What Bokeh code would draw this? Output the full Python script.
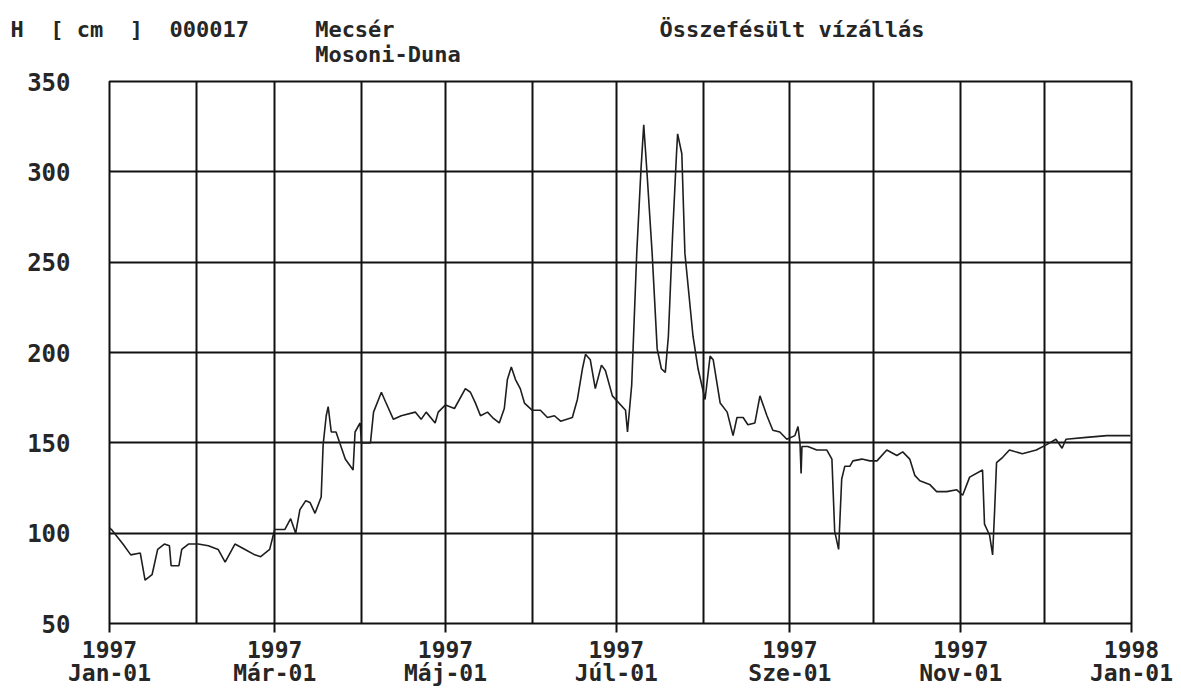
from bokeh.plotting import figure
from bokeh.models import Range1d, FixedTicker, Title
from bokeh.embed import file_html
from bokeh.resources import INLINE

# ---- data (day of year 1997, water level in cm) ----
days = [0, 0.7, 4.8, 7.6, 11, 12.7, 15.2, 17.2, 19.6, 21.4, 22, 24.8, 25.8, 28.2,
        31.7, 35.3, 38.8, 41.3, 44.8, 48.4, 51.9, 54, 57.2,
        59, 62.6, 64.7, 66.5, 68, 70.1, 71.6, 73.4, 75.6, 76.3, 77.4, 78.1, 79.2, 80.9, 84.2, 87, 87.7, 89.5,
        90, 93.2, 94.3, 97.1, 98.5, 101.4, 104.2, 109.2, 111.3, 113.1, 116.3, 117.4,
        120, 123.2, 127.1, 128.9, 130.7, 132.5, 135, 136.8, 139.2, 141, 142.1, 143.5, 145, 146.7, 148.2,
        151, 153.9, 156.4, 158.9, 161.1, 165.3, 167.1, 168.9, 170, 171.7, 173.5, 175.7, 177.1, 179.6,
        184.3, 185, 186.5, 188.3, 189.8, 190.8, 191.9, 193.8, 195.6, 197.1, 198.5, 199.6, 201.1, 202.5, 202.9, 204.4, 205.5, 208.4, 210.2,
        212.7, 214.5, 215.6, 218.1, 220.6, 222.7, 224.1, 226.3, 228, 230.5, 232.3, 234.8, 236.9, 239.4, 241.9,
        244.8, 245.9, 246.6, 247, 247.3, 249.4, 252.6, 256.2, 258, 259, 260.4, 261.5, 262.6, 264.4, 265.5, 268.7, 271.6,
        274.1, 277.6, 281.2, 283.3, 285.8, 287.6, 289.4, 292.9, 295.4, 299, 302.6,
        304.7, 307.2, 311.8, 312.5, 314.3, 315.4, 316.1, 316.8, 319, 321.4, 326, 331,
        334.7, 338, 340.2, 341.6, 348.9, 356.2, 364.6]

levels = [103, 102, 94, 88, 89, 74, 77, 91, 94, 93, 82, 82, 91, 94,
          94, 93, 91, 84, 94, 91, 88, 87, 91,
          102, 102, 108, 100, 113, 118, 117, 111, 120, 149, 165, 170, 156, 156, 141, 135, 156, 161,
          150, 150, 167, 178, 173, 163, 165, 167, 163, 167, 161, 167,
          171, 169, 180, 178, 172, 165, 167, 164, 161, 169, 185, 192, 185, 180, 172,
          168, 168, 164, 165, 162, 164, 174, 191, 199, 196, 180, 193, 190, 176,
          168, 156, 182, 255, 301, 326, 301, 255, 202, 191, 189, 209, 265, 310, 321, 310, 255, 209, 191,
          174, 198, 196, 172, 167, 154, 164, 164, 160, 161, 176, 165, 157, 156, 152,
          154, 159, 150, 133, 148, 148, 146, 146, 141, 101, 91, 130, 137, 137, 140, 141, 140,
          140, 146, 143, 145, 141, 132, 129, 127, 123, 123, 124,
          121, 131, 135, 105, 99, 88, 112, 139, 142, 146, 144, 146,
          149, 152, 147, 152, 153, 154, 154]

month_starts = [0, 31, 59, 90, 120, 151, 181, 212, 243, 273, 304, 334, 365]
label_days = [0, 59, 120, 181, 243, 304, 365]
label_years = ["1997", "1997", "1997", "1997", "1997", "1997", "1998"]
label_months = ["Jan-01", "Már-01", "Máj-01", "Júl-01", "Sze-01", "Nov-01", "Jan-01"]
y_ticks = [50, 100, 150, 200, 250, 300, 350]
y_grid = [100, 150, 200, 250, 300]

FONT = "DejaVu Sans Mono"
INK = "#262626"
NB = "\u00a0"

p = figure(width=1181, height=689, output_backend="svg", toolbar_location=None,
           x_range=Range1d(0, 365), y_range=Range1d(50, 350),
           min_border_left=109, min_border_right=50, min_border_top=81, min_border_bottom=66,
           title=None)
p.background_fill_color = "white"
p.border_fill_color = "white"
p.outline_line_color = "#111111"
p.outline_line_width = 2

# grid
p.xgrid.ticker = FixedTicker(ticks=month_starts)
p.ygrid.ticker = FixedTicker(ticks=y_grid)
for g in (p.xgrid, p.ygrid):
    g.grid_line_color = "#111111"
    g.grid_line_width = 2
    g.grid_line_alpha = 1.0

# y axis
p.yaxis.ticker = FixedTicker(ticks=y_ticks)
p.yaxis.axis_line_color = None
p.yaxis.major_tick_line_color = None
p.yaxis.minor_tick_line_color = None
p.yaxis.major_label_standoff = 33
p.yaxis.major_label_text_font = FONT
p.yaxis.major_label_text_font_style = "bold"
p.yaxis.major_label_text_font_size = "24px"
p.yaxis.major_label_text_color = INK

# x axis
p.xaxis.ticker = FixedTicker(ticks=label_days)
p.xaxis.major_label_overrides = {d: f"{y}\n{m}" for d, y, m in zip(label_days, label_years, label_months)}
p.xaxis.axis_line_color = None
p.xaxis.major_tick_in = 0
p.xaxis.major_tick_out = 9
p.xaxis.major_tick_line_width = 2
p.xaxis.major_tick_line_color = "#111111"
p.xaxis.minor_tick_line_color = None
p.xaxis.major_label_standoff = 4
p.xaxis.major_label_text_font = FONT
p.xaxis.major_label_text_font_style = "bold"
p.xaxis.major_label_text_font_size = "23px"
p.xaxis.major_label_text_line_height = 0.92
p.xaxis.major_label_text_color = INK

# data line
p.line(days, levels, line_color="#1e1e1e", line_width=1.6)

# header (monospace, positions kept with non-breaking spaces)
line1 = ("H" + NB * 2 + "[" + NB + "cm" + NB * 2 + "]" + NB * 2 + "000017" + NB * 5 + "Mecsér"
         + NB * 20 + "Összefésült" + NB + "vízállás")
line2 = NB * 23 + "Mosoni-Duna"
head = Title(text=line1 + "\n" + line2, align="left", offset=-99, standoff=26,
             vertical_align="top",
             text_font=FONT, text_font_style="bold", text_font_size="22px",
             text_color=INK, text_line_height=1.0)
p.add_layout(head, "above")

open("out.html", "w").write(file_html(p, INLINE))
